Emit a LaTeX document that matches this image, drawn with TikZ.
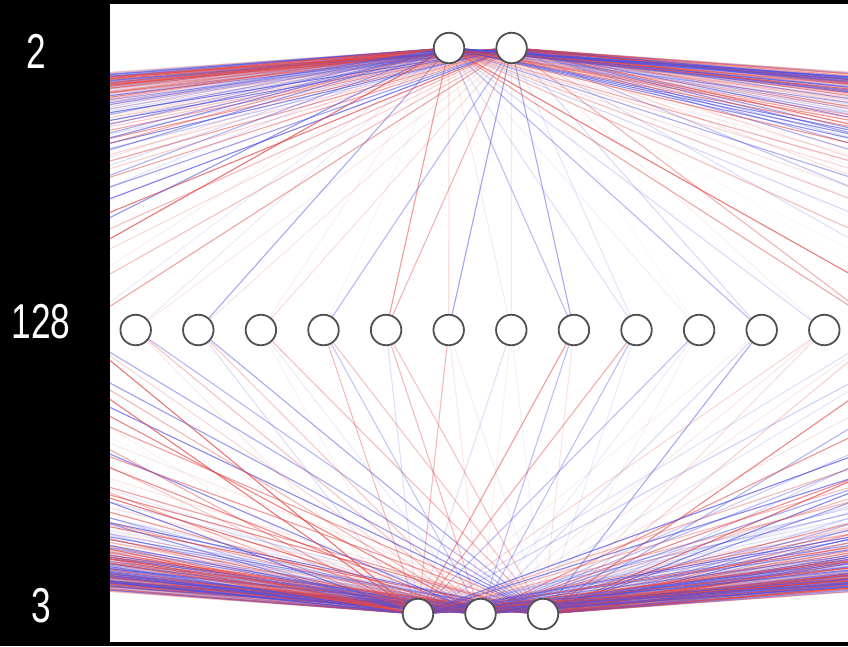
\documentclass[tikz,border=0pt]{standalone}
\usepackage{fontspec}
\newfontfamily\lblfont[FakeStretch=0.72]{Liberation Sans}
\pgfdeclarelayer{backdrop}
\pgfdeclarelayer{edges}
\pgfsetlayers{backdrop,edges,main}
\definecolor{posw}{RGB}{228,70,70}
\definecolor{negw}{RGB}{80,80,226}
\definecolor{ring}{RGB}{80,80,80}
\tikzset{
  neuron/.style={circle, draw=ring, line width=1.8pt, fill=white,
                 minimum size=30.5pt, inner sep=0pt},
  edge/.style={line width=1.1pt},
  countlabel/.style={text=white, inner sep=0pt,
                     font=\lblfont\fontsize{49}{49}\selectfont},
}
% one weighted connection: red for positive, blue for negative,
% opacity from the magnitude of the weight
\newcommand\synapse[3]{%
  \pgfmathsetmacro\wop{min(0.75,0.75*abs(#1)^1.2)}%
  \pgfmathtruncatemacro\wpos{(#1)>0}%
  \ifnum\wpos=1 \def\wcol{posw}\else\def\wcol{negw}\fi
  \draw[edge, draw=\wcol, draw opacity=\wop] (#2) -- (#3);%
}
\begin{document}
\begin{tikzpicture}[x=1pt,y=-1pt]
\begin{pgfonlayer}{backdrop}
  \fill[black] (0,0) rectangle (848,646);
  \fill[white] (110,4) rectangle (848,642);
\end{pgfonlayer}
\useasboundingbox (0,0) rectangle (848,646);

% layer sizes
\node[countlabel] (l1) at (36,51) {2};
\node[countlabel] (l2) at (41,322) {128};
\node[countlabel] (l3) at (41,606) {3};

\begin{scope}
  \clip (110,4) rectangle (848,642);
  \node[neuron] (t1) at (449,48) {};
  \node[neuron] (t2) at (511.6,48) {};
  \foreach \k in {0,...,127}
    \node[neuron] (m\k) at ({480+62.6*(\k-63.5)},330) {};
  \node[neuron] (b1) at (418,614) {};
  \node[neuron] (b2) at (480.5,614) {};
  \node[neuron] (b3) at (543,614) {};
\end{scope}

\begin{pgfonlayer}{edges}
\begin{scope}
  \clip (110,4) rectangle (848,642);
  % weights of the central hidden units
  \foreach \k/\wa/\wb/\wc/\wd/\we in {
      58/-0.2/0.2/0.2/0.5/-0.6,
      59/-0.7/0.25/-0.3/0.45/-0.7,
      60/0.15/0.3/0.15/-0.2/0.55,
      61/-0.1/-0.6/0.55/-0.5/0.5,
      62/0.75/0.6/-0.3/0.55/0.5,
      63/0.3/-0.75/0.55/0.2/-0.15,
      64/0.2/0.25/-0.3/0.15/-0.15,
      65/-0.55/-0.7/0.75/-0.55/0.25,
      66/-0.3/-0.25/0.65/-0.55/-0.2,
      67/-0.15/0.1/-0.55/-0.2/0.15,
      68/-0.6/-0.35/0.15/-0.35/-0.7,
      69/-0.35/0.15/0.35/0.2/0.3,
      70/0.7/0.6/-0.3/0.2/0.4} {
    \synapse{\wa}{t1}{m\k}
    \synapse{\wb}{t2}{m\k}
    \synapse{\wc}{m\k}{b1}
    \synapse{\wd}{m\k}{b2}
    \synapse{\we}{m\k}{b3}
  }
  % remaining hidden units
  \pgfmathsetseed{4242}
  \foreach \k in {0,...,127} {
    \ifnum\k<58 \def\farunit{1}\else
      \ifnum\k>70 \def\farunit{1}\else\def\farunit{0}\fi\fi
    \ifnum\farunit=1
      \pgfmathsetmacro\wa{rand}\synapse{\wa}{t1}{m\k}
      \pgfmathsetmacro\wb{rand}\synapse{\wb}{t2}{m\k}
      \pgfmathsetmacro\wc{rand}\synapse{\wc}{m\k}{b1}
      \pgfmathsetmacro\wd{rand}\synapse{\wd}{m\k}{b2}
      \pgfmathsetmacro\we{rand}\synapse{\we}{m\k}{b3}
    \fi
  }
\end{scope}
\end{pgfonlayer}
\end{tikzpicture}
\end{document}
